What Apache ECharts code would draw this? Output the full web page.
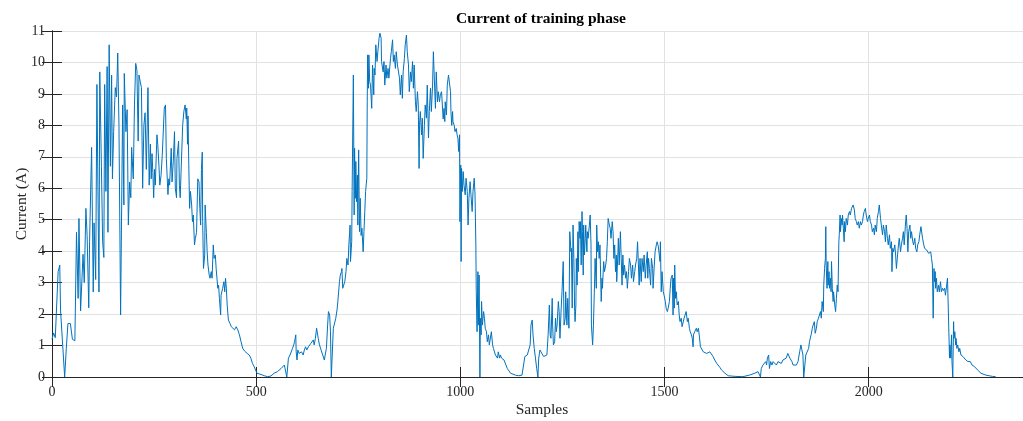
<!DOCTYPE html>
<html>
<head>
<meta charset="utf-8">
<title>Current of training phase</title>
<script src="https://cdn.jsdelivr.net/npm/echarts@6/dist/echarts.min.js"></script>
<style>
  html, body { margin: 0; padding: 0; background: #fff; }
  #chart { width: 1023px; height: 421px; }
</style>
</head>
<body>
<div id="chart"></div>
<script>
// Measured current (A) per sample, as [sample, current] pairs, one array per load cycle.
const cycle1 = [[0,1.2],[4,1.4],[8,1.25],[11,1.3],[15,3.35],[19,3.56],[21,2.1],[31,0],[35,0.9],[39,1.7],[45,1.7],[50,1.2],[56,1.15],[60,4.6],[64,2.5],[66,5.04],[70,2.1],[76,3.9],[79,3.0],[83,5.36],[86,4.5],[90,2.2],[92,4.3],[97,7.3],[101,2.7],[103,4.9],[107,3.1],[110,9.3],[115,2.7],[117,9.7],[121,6.7],[124,4.3],[127,3.8],[129,9.3],[132,5.9],[135,9.87],[137,4.6],[140,10.56],[143,6.7],[146,9.6],[148,6.3],[151,7.8],[155,9.2],[158,8.9],[161,10.3],[164,8.0],[168,1.97],[173,8.65],[176,5.47],[177,9.65],[181,7.8],[184,8.5],[187,4.83],[190,6.2],[193,5.7],[195,7.3],[199,6.3],[202,8.65],[205,9.97],[208,9.75],[211,7.5],[213,9.6],[216,9.4],[219,9.2],[222,6.0],[225,8.0],[228,8.4],[231,6.6],[235,9.2],[238,6.1],
  [241,7.4],[243,6.3],[245,7.1],[247,6.5],[249,5.7],[251,6.6],[253,6.1],[257,7.7],[259,7.4],[262,6.7],[264,6.1],[267,6.4],[270,7.05],[273,7.0],[275,8.55],[278,8.65],[280,6.95],[284,5.8],[286,6.3],[288,6.1],[292,7.27],[294,6.2],[297,6.85],[300,7.8],[302,6.0],[305,5.7],[306,6.95],[310,7.5],[312,6.1],[314,5.7],[316,6.5],[320,8.0],[323,8.45],[326,8.65],[329,8.2],[330,8.55],[332,7.4],[333,8.3],[335,6.75],[337,5.36],[339,5.9],[342,5.47],[344,4.94],[346,5.15],[349,4.2],[351,4.4],[354,4.6],[357,6.3],[360,6.2],[362,5.36],[364,4.83],[366,6.6],[368,7.15],[369,4.94],[371,3.45],[374,3.88],[375,5.47],[378,4.6],[380,3.98],[382,3.56],[385,3.24],[387,3.14],[390,3.35],[392,3.14],[395,4.2],[397,3.77],[400,3.88],[402,3.45],[404,3.14],[406,2.82],[408,2.92],[410,2.5],[413,1.97],[414,2.6],[418,2.82],[421,3.03],[423,2.71],[425,3.14],[427,2.82],[429,2.29],[432,1.81],[436,1.7],[439,1.6],[443,1.55],[447,1.5],[451,1.6],[455,1.5],[459,1.34],[463,1.12],[467,0.91],[472,0.82],[478,0.75],[483,0.7],[487,0.6],[491,0.43],[495,0.33],[499,0.27],[502,0.12],[506,0.15],[512,0.08],[520,0.04],[528,0.01]];

const cycle2 = [[536,0.03],[544,0.12],[552,0.17],[561,0.27],[569,0.38],[573,0.43],[575,0],[578,0],[579,0.6],[583,0.7],[586,0.75],[589,0.91],[592,1.02],[594,1.12],[597,1.34],[598,0.8],[600,0.54],[602,0.86],[605,0.75],[608,0.7],[611,0.8],[615,0.7],[618,0.86],[621,0.96],[624,0.86],[628,0.96],[631,0.91],[634,1.07],[637,1.12],[640,1.18],[642,1.02],[645,1.23],[648,1.55],[651,1.6],[652,1.23],[655,1.02],[659,0.86],[663,0.7],[667,0.54],[669,0.7],[672,0.91],[675,1.65],[677,2.08],[680,1.97],[682,1.44],[684,0],[687,0],[689,1.55],[692,1.6],[695,1.87],[698,2.13],[700,2.4],[704,3.03],[706,3.24],[709,3.35],[710,3.45],[712,2.82],[715,2.77],[717,3.03],[720,3.35],[722,3.77],[725,3.56],[727,4.2],[730,4.83],[731,3.67],[734,4.3],[735,5.9],[738,9.6],[740,5.15],[741,7.27],[743,5.68],[744,6.85],[746,5.57],[748,6.42],[749,4.83],[751,7.22],[753,4.62],[755,5.68],[757,4.5],[759,4.73],[762,3.98],[764,4.62],[766,5.26],[768,5.9],[771,6.32],[772,8.75],[773,10.24],[775,9.18],[776,10.24],[778,9.39],[780,9.28],[783,8.54],[785,9.92],[788,8.97],[789,9.81],[791,9.6],[793,10.56],[796,10.03],[798,10.34],[801,10.77],[803,10.93],[806,10.77],[807,10.03],[811,9.7],[813,10.03],[815,9.28],[818,9.92],[820,9.5],[823,9.81],[825,9.5],[829,10.13],[831,10.34],[834,10.72],[836,10.03],[838,10.24],[841,9.81],[843,10.34],[846,9.92],[848,9.92],[851,9.5],[853,8.97],[856,9.6],[858,8.86],[860,9.7],[863,10.13],[865,10.56],[868,10.87],[870,10.34],[873,9.92],[875,9.07],[878,9.7],[880,9.39],[883,10.03],[885,9.18],[887,9.92],[890,8.75],[892,8.44],[895,9.07],[897,8.65],[899,6.63],[900,8.0],[902,8.44],[905,7.7],[907,8.23],[909,6.95],[912,8.0],[914,8.65],[917,8.23],[919,9.28],[922,7.6],[924,8.44],[927,9.18],[929,8.44],[932,9.28],[934,10.34],[936,9.6],[939,8.54],[941,9.7],[944,8.75],[946,9.07],[949,8.75],[951,8.97],[954,9.07],[958,8.2],[960,8.54],[962,8.12],[963,8.75],[966,8.33],[968,9.28],[971,9.6],[973,9.65],[976,9.07],[977,8.44],[979,8.0],[981,8.44],[982,8.12],[985,8.0],[987,7.8],[990,7.9],[992,7.7],[994,7.6],[996,7.17],[998,7.7],[999,4.94],[1001,6.74],[1002,3.67],[1003,6.63],[1005,5.9],[1007,6.53],[1009,6.1],[1012,5.79],[1014,6.32],[1017,5.9],[1019,4.83],[1021,5.68],[1024,6.21],[1026,5.79],[1029,5.26],[1031,5.9],[1034,6.32],[1036,5.79],[1038,4.2],[1039,2.71],[1041,1.44],[1043,3.35],[1044,1.65],[1046,3.24],[1048,0],[1049,1.87],[1051,1.34],[1052,2.4],[1054,1.65],[1057,2.08],[1059,1.87],[1061,1.55],[1064,1.44],[1066,1.12],[1069,1.34],[1071,1.02],[1074,1.02],[1076,1.44],[1079,1.02],[1081,0.91],[1084,0.86],[1086,0.7],[1088,0.75],[1091,0.6],[1093,0.8],[1096,0.6],[1098,0.7],[1101,0.6],[1104,0.65],[1107,0.54],[1110,0.49],[1115,0.27],[1119,0.22],[1123,0.12],[1127,0.1],[1135,0.06],[1143,0.04],[1151,0.06]];

const cycle3 = [[1155,0.04],[1158,0.65],[1161,0.7],[1164,0.7],[1168,0.75],[1171,1.02],[1173,1.65],[1176,1.81],[1178,1.34],[1181,0.91],[1184,0.6],[1187,0.27],[1190,0],[1192,0.6],[1195,0.86],[1199,0.86],[1204,0.65],[1208,0.6],[1212,0.7],[1215,1.34],[1218,2.29],[1220,1.34],[1222,1.23],[1225,2.5],[1226,1.65],[1228,1.02],[1231,1.12],[1233,1.87],[1235,1.44],[1237,1.65],[1240,2.4],[1242,2.08],[1244,1.23],[1247,2.19],[1249,2.71],[1252,3.67],[1254,1.65],[1257,1.87],[1258,2.71],[1261,1.65],[1263,2.5],[1266,1.55],[1268,4.62],[1271,3.98],[1272,4.09],[1274,2.19],[1276,4.83],[1278,3.77],[1280,2.08],[1281,1.76],[1283,2.29],[1284,3.77],[1286,2.92],[1288,4.62],[1289,3.35],[1291,4.94],[1293,4.41],[1294,4.94],[1296,3.56],[1298,5.26],[1299,4.62],[1301,3.24],[1302,4.83],[1304,3.88],[1306,4.41],[1307,4.83],[1310,3.98],[1311,4.62],[1313,4.41],[1316,4.83],[1318,5.15],[1320,4.2],[1321,1.65],[1324,1.02],[1326,1.65],[1329,3.14],[1330,3.77],[1333,2.82],[1334,4.83],[1336,3.98],[1338,4.3],[1340,3.77],[1342,4.2],[1343,3.56],[1345,2.4],[1347,3.14],[1348,2.82],[1351,3.67],[1353,3.35],[1356,3.56],[1358,3.77],[1360,4.3],[1362,5.04],[1365,4.83],[1367,4.73],[1369,4.41],[1372,4.94],[1374,4.62],[1376,3.77],[1378,4.2],[1380,3.35],[1382,3.88],[1383,3.03],[1386,3.98],[1387,4.41],[1389,3.56],[1392,4.62],[1394,3.77],[1396,2.92],[1398,3.88],[1400,3.24],[1402,3.56],[1405,3.14],[1407,3.35],[1409,2.82],[1412,3.35],[1414,3.77],[1417,3.56],[1419,3.14],[1422,3.56],[1424,3.03],[1427,3.35],[1429,3.56],[1432,3.77],[1434,4.3],[1438,2.92],[1440,3.77],[1443,3.03],[1445,3.77],[1448,3.35],[1450,3.88],[1453,3.14],[1455,3.56],[1458,3.98],[1459,3.14],[1461,3.77],[1463,3.45],[1466,2.92],[1468,3.77],[1471,3.45],[1472,2.82],[1475,3.56],[1477,3.98],[1480,4.2],[1482,4.3],[1485,4.14],[1487,4.09],[1489,3.67],[1490,4.3],[1492,2.71],[1494,3.35],[1495,3.14],[1497,2.71],[1499,2.6],[1502,2.4],[1504,2.19],[1507,2.08],[1509,2.19],[1512,2.4],[1514,2.82],[1516,3.14],[1519,3.24],[1521,1.97],[1522,3.14],[1524,2.19],[1525,3.56],[1527,2.5],[1529,2.71],[1531,2.29],[1534,2.4],[1536,1.97],[1538,1.76],[1541,1.87],[1543,1.6],[1546,1.65],[1548,1.87],[1551,1.87],[1553,2.08],[1556,1.76],[1558,1.87],[1561,1.55],[1563,1.44],[1566,1.34],[1568,1.23],[1570,0.96],[1571,1.34],[1574,1.44],[1578,1.55],[1580,1.44],[1583,1.55],[1585,1.34],[1588,0.96],[1591,0.91],[1595,0.8],[1599,0.8],[1603,0.75],[1607,0.75],[1611,0.8],[1615,0.75],[1619,0.65],[1623,0.54],[1628,0.43],[1632,0.38],[1636,0.3],[1640,0.22],[1644,0.17],[1648,0.12],[1652,0.08],[1656,0.04],[1664,0.03],[1673,0.02],[1692,0.01]];

const cycle4 = [[1708,0.06],[1721,0.12],[1729,0.17],[1733,0.22],[1735,0],[1737,0.27],[1741,0.38],[1745,0.33],[1748,0.49],[1750,0.38],[1752,0.6],[1755,0.7],[1757,0.27],[1760,0.49],[1763,0.38],[1766,0.49],[1770,0.43],[1774,0.38],[1778,0.49],[1782,0.54],[1786,0.43],[1790,0.54],[1794,0.54],[1798,0.6],[1802,0.75],[1805,0.8],[1807,0.6],[1810,0.65],[1812,0.49],[1815,0.38],[1819,0.33],[1823,0.38],[1827,0.49],[1831,0.8],[1834,1.02],[1837,0.96],[1839,0.7],[1841,0],[1845,0],[1846,0.7],[1850,0.75],[1853,0.91],[1855,1.12],[1859,1.34],[1862,1.55],[1864,1.65],[1867,1.76],[1869,1.39],[1872,1.55],[1874,1.76],[1877,1.87],[1879,1.92],[1882,2.08],[1884,1.87],[1886,2.4],[1889,2.08],[1890,2.92],[1892,3.45],[1894,3.77],[1895,4.78],[1896,3.56],[1898,2.82],[1900,3.67],[1901,2.92],[1903,3.35],[1904,2.82],[1906,3.14],[1908,2.71],[1909,3.67],[1911,2.82],[1913,2.4],[1914,2.71],[1917,2.29],[1919,2.08],[1921,2.5],[1923,2.92],[1925,2.71],[1927,4.3],[1928,4.52],[1930,5.15],[1931,4.62],[1933,5.04],[1935,4.83],[1936,5.15],[1938,4.73],[1940,4.3],[1941,4.94],[1943,4.62],[1945,5.04],[1948,4.83],[1950,5.15],[1953,5.26],[1955,5.15],[1958,5.36],[1960,5.42],[1962,5.47],[1965,5.31],[1967,5.04],[1970,4.94],[1972,4.83],[1975,4.94],[1977,4.73],[1980,4.94],[1982,4.83],[1985,4.94],[1987,5.15],[1989,5.26],[1992,5.36],[1994,5.15],[1997,4.94],[1999,5.04],[2002,5.15],[2004,4.94],[2007,4.83],[2009,4.62],[2012,4.73],[2014,4.52],[2016,4.83],[2019,4.62],[2021,5.04],[2024,5.26],[2026,5.47],[2029,5.04],[2031,4.83],[2034,4.52],[2036,4.83],[2039,4.62],[2041,4.3],[2043,4.83],[2046,4.41],[2048,4.2],[2051,4.52],[2053,4.09],[2056,4.3],[2057,3.35],[2059,4.09],[2061,3.98],[2064,4.2],[2066,3.88],[2068,3.45],[2070,3.77],[2073,4.2],[2075,4.41],[2078,3.98],[2080,4.2],[2083,4.41],[2085,4.62],[2087,4.2],[2090,4.83],[2092,5.15],[2094,4.73],[2096,3.98],[2098,4.62],[2101,4.83],[2103,4.41],[2105,4.62],[2108,4.3],[2110,4.2],[2113,4.41],[2115,4.09],[2118,3.98],[2120,4.2],[2123,4.3],[2125,4.52],[2128,4.78],[2130,4.83],[2132,4.41],[2135,4.2],[2137,4.09],[2140,4.14],[2142,4.04],[2145,3.98],[2147,3.93],[2150,3.88],[2152,3.98],[2154,3.77],[2156,3.56],[2158,1.87],[2160,3.45],[2161,3.03],[2163,3.35],[2164,2.82],[2166,3.14],[2168,2.71],[2171,2.92],[2173,2.71],[2176,3.03],[2178,2.71],[2181,2.82],[2183,2.75],[2186,2.82],[2188,2.6],[2191,2.92],[2193,3.14],[2195,2.19],[2196,1.65],[2198,0.6],[2199,1.02],[2201,0.6],[2203,1.34],[2204,0.49],[2206,0],[2208,1.76],[2209,1.23],[2211,1.44],[2213,1.02],[2214,1.23],[2216,0.91],[2218,1.02],[2221,0.8],[2223,0.91],[2226,0.7],[2228,0.75],[2231,0.65],[2233,0.7],[2235,0.6],[2238,0.54],[2240,0.54],[2243,0.49],[2246,0.43],[2249,0.49],[2253,0.38],[2256,0.43],[2259,0.33],[2262,0.27],[2267,0.22],[2271,0.17],[2275,0.12],[2279,0.08],[2287,0.06],[2295,0.04],[2303,0.02],[2311,0.01]];

// Axis ranges and tick steps
const sampleRange = [0, 2400];
const sampleStep = 500;
const currentRange = [0, 11];
const currentStep = 1;

const samples = cycle1.concat(cycle2, cycle3, cycle4);

const ink = '#262626';
const gridInk = '#e2e2e2';
const serif = '"Liberation Serif", "Times New Roman", serif';

const tickStyle = { show: true, inside: true, length: 10, lineStyle: { color: ink, width: 1 } };
const lineStyle = { show: true, lineStyle: { color: ink, width: 1 } };
const plainNumber = v => String(v);

const chart = echarts.init(document.getElementById('chart'), null, { renderer: 'canvas' });
chart.setOption({
  animation: false,
  backgroundColor: '#ffffff',
  title: {
    text: 'Current of training phase',
    left: 541,
    top: 11,
    padding: 0,
    textAlign: 'center',
    textStyle: { fontFamily: serif, fontSize: 15.5, fontWeight: 'bold', color: '#000' }
  },
  grid: { left: 52, right: -9, top: 31, bottom: 44, containLabel: false, outerBoundsMode: 'none' },
  xAxis: [{
    type: 'value',
    position: 'bottom',
    min: sampleRange[0], max: sampleRange[1], interval: sampleStep,
    name: 'Samples',
    nameLocation: 'middle',
    nameGap: 25,
    nameMoveOverlap: false,
    nameTextStyle: { fontFamily: serif, fontSize: 15.5, color: ink },
    axisLine: lineStyle,
    axisTick: tickStyle,
    axisLabel: { fontFamily: serif, fontSize: 14, color: ink, margin: 8, showMaxLabel: false, formatter: plainNumber },
    splitLine: { show: true, lineStyle: { color: gridInk, width: 1 } }
  }, {
    type: 'value',
    position: 'top',
    min: sampleRange[0], max: sampleRange[1], interval: sampleStep,
    axisLine: lineStyle,
    axisTick: tickStyle,
    axisLabel: { show: false },
    splitLine: { show: false }
  }],
  yAxis: [{
    type: 'value',
    position: 'left',
    min: currentRange[0], max: currentRange[1], interval: currentStep,
    name: 'Current (A)',
    nameLocation: 'middle',
    nameGap: 22,
    nameMoveOverlap: false,
    nameTextStyle: { fontFamily: serif, fontSize: 15.5, color: ink },
    axisLine: lineStyle,
    axisTick: tickStyle,
    axisLabel: { fontFamily: serif, fontSize: 14, color: ink, margin: 7, formatter: plainNumber },
    splitLine: { show: true, lineStyle: { color: gridInk, width: 1 } }
  }, {
    type: 'value',
    position: 'right',
    min: currentRange[0], max: currentRange[1], interval: currentStep,
    axisLine: lineStyle,
    axisTick: tickStyle,
    axisLabel: { show: false },
    splitLine: { show: false }
  }],
  series: [{
    name: 'Current',
    type: 'line',
    xAxisIndex: 0,
    yAxisIndex: 0,
    data: samples,
    showSymbol: false,
    symbol: 'none',
    sampling: null,
    smooth: false,
    lineStyle: { color: '#0072BD', width: 1 },
    z: 3
  }]
});
</script>
</body>
</html>
